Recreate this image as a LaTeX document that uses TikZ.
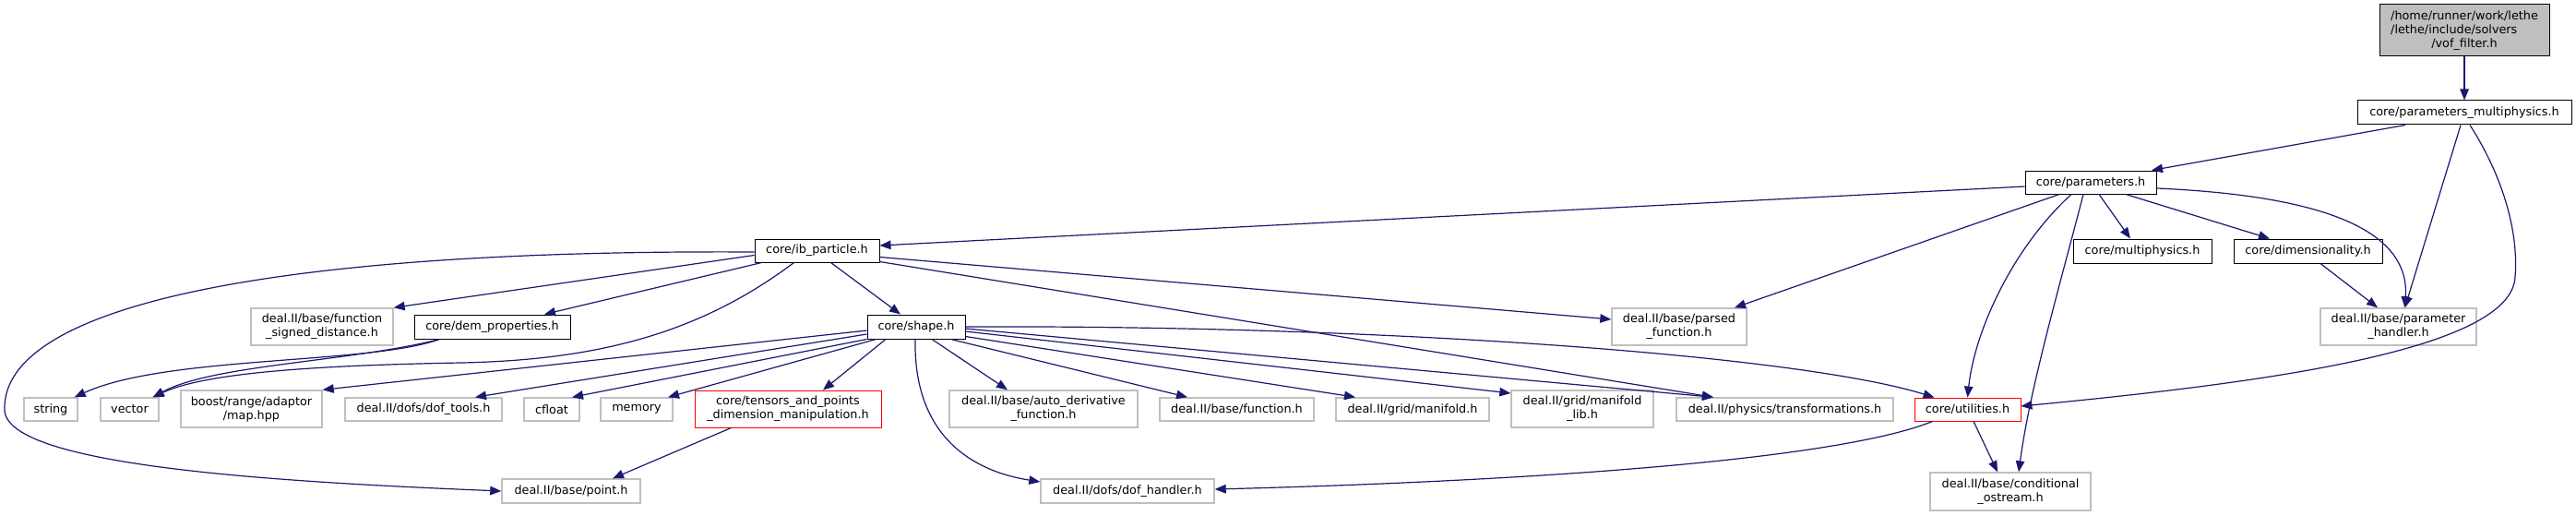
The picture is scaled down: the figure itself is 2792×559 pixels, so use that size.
\documentclass[tikz,border=0pt]{standalone}
\usepackage{fontspec}
\setmainfont{DejaVu Sans}
\usetikzlibrary{arrows.meta}
\definecolor{edgec}{HTML}{191970}
\definecolor{greyb}{HTML}{BFBFBF}
\definecolor{redb}{HTML}{FF0000}
\definecolor{vofc}{HTML}{BFBFBF}
\newcommand\gnode[7]{\node[#6, minimum width={#4-#2}, minimum height={#5-#3}] (#1) at ({(#2+#4)/2},{(#3+#5)/2}) {#7};}
\tikzset{
  gbox/.style={draw, rectangle, inner sep=0pt, line width=1pt, align=center, fill=white,
    font=\fontsize{12.8}{15}\selectfont},
  docnode/.style={gbox, draw=black},
  extnode/.style={gbox, draw=greyb, line width=1.4pt},
  trunode/.style={gbox, draw=redb, line width=0.9pt},
  rootnode/.style={gbox, draw=black, fill=vofc},
  edge/.style={draw=edgec, line width=1.2pt, -{Triangle[length=12pt,width=9.5pt]}}
}
\begin{document}
\begin{tikzpicture}[x=1pt,y=-1pt]
\useasboundingbox (0,0) rectangle (2792,559);
% nodes
\gnode{vof}{2579}{5}{2763}{61}{rootnode}{/home/runner/work/lethe\\\rlap{/lethe/include/solvers}\phantom{/home/runner/work/lethe}\\/vof\_filter.h}
\gnode{pmp}{2555}{109}{2787}{135}{docnode}{core/parameters\_multiphysics.h}
\gnode{par}{2195}{185}{2337}{210}{docnode}{core/parameters.h}
\gnode{ib}{818}{259}{953}{284}{docnode}{core/ib\_particle.h}
\gnode{mph}{2247}{259}{2397}{285}{docnode}{core/multiphysics.h}
\gnode{dim}{2421}{259}{2582}{285}{docnode}{core/dimensionality.h}
\gnode{fsd}{272}{334}{426}{374}{extnode}{deal.II/base/function\\\_signed\_distance.h}
\gnode{dem}{449}{341}{618}{367}{docnode}{core/dem\_properties.h}
\gnode{pfn}{1747}{334}{1893}{374}{extnode}{deal.II/base/parsed\\\_function.h}
\gnode{ph}{2515}{334}{2684}{374}{extnode}{deal.II/base/parameter\\\_handler.h}
\gnode{shape}{940}{341}{1046}{367}{docnode}{core/shape.h}
\gnode{string}{26}{431}{84}{456}{extnode}{string}
\gnode{vector}{109}{431}{172}{456}{extnode}{vector}
\gnode{boost}{196}{423}{349}{463}{extnode}{boost/range/adaptor\\/map.hpp}
\gnode{doftools}{374}{431}{544}{456}{extnode}{deal.II/dofs/dof\_tools.h}
\gnode{cfloat}{568}{431}{628}{456}{extnode}{cfloat}
\gnode{memory}{651}{431}{729}{456}{extnode}{memory}
\gnode{tensors}{753}{423}{955}{463}{trunode}{core/tensors\_and\_points\\\_dimension\_manipulation.h}
\gnode{autoder}{1029}{423}{1233}{463}{extnode}{deal.II/base/auto\_derivative\\\_function.h}
\gnode{func}{1257}{431}{1424}{456}{extnode}{deal.II/base/function.h}
\gnode{manif}{1448}{431}{1614}{456}{extnode}{deal.II/grid/manifold.h}
\gnode{maniflib}{1638}{423}{1792}{463}{extnode}{deal.II/grid/manifold\\\_lib.h}
\gnode{transf}{1817}{431}{2052}{456}{extnode}{deal.II/physics/transformations.h}
\gnode{util}{2075}{431}{2190}{456}{trunode}{core/utilities.h}
\gnode{point}{544}{519}{694}{545}{extnode}{deal.II/base/point.h}
\gnode{dofh}{1128}{519}{1316}{545}{extnode}{deal.II/dofs/dof\_handler.h}
\gnode{cond}{2092}{512}{2266}{553}{extnode}{deal.II/base/conditional\\\_ostream.h}
% edges
\draw[edge] (vof.south) -- (pmp.north);
\draw[edge] ([xshift=-64pt]pmp.south) -- ([xshift=66pt]par.north);
\draw[edge] ([xshift=-4pt]pmp.south) -- ([xshift=7pt]ph.north);
\draw[edge] ([xshift=6pt]pmp.south) .. controls (2712,190) and (2730,250) .. (2726,300) .. controls (2722,380) and (2450,415) .. ([yshift=3.5pt]util.east);
\draw[edge] ([yshift=-4.5pt]par.west) -- ([yshift=5.5pt]ib.east);
\draw[edge] ([xshift=9pt]par.south) -- ([xshift=-13pt]mph.north);
\draw[edge] ([xshift=38pt]par.south) -- ([xshift=-41.5pt]dim.north);
\draw[edge] ([yshift=-6.5pt]par.east) .. controls (2520,212) and (2612,250) .. ([xshift=7pt]ph.north);
\draw[edge] ([xshift=-34pt]par.south) -- ([xshift=60pt]pfn.north);
\draw[edge] ([xshift=-21pt]par.south) .. controls (2180,270) and (2140,360) .. (util.north);
\draw[edge] ([xshift=-8pt]par.south) .. controls (2235,300) and (2200,420) .. ([xshift=9pt]cond.north);
\draw[edge] ([xshift=13.5pt]dim.south) -- ([xshift=-22.5pt]ph.north);
\draw[edge] ([yshift=-1.5pt]ib.west) .. controls (300,270) and (0,330) .. (5,445) .. controls (10,505) and (300,522) .. (point.west);
\draw[edge] ([yshift=-5pt]ib.west) -- (fsd.north east);
\draw[edge] ([xshift=8pt]ib.south west) -- ([xshift=56.5pt]dem.north);
\draw[edge] ([xshift=-25pt]ib.south) .. controls (760,360) and (650,390) .. (500,393) .. controls (330,396) and (220,405) .. ([xshift=-7pt]vector.north east);
\draw[edge] ([xshift=15pt]ib.south) -- ([xshift=-17pt]shape.north);
\draw[edge] ([yshift=-7pt]ib.east) -- ([yshift=8pt]pfn.west);
\draw[edge] ([yshift=-12pt]ib.east) -- ([xshift=-77.5pt]transf.north);
\draw[edge] ([yshift=-4pt]shape.west) -- (boost.north east);
\draw[edge] ([yshift=-8pt]shape.west) -- ([xshift=56pt]doftools.north);
\draw[edge] (shape.south west) -- ([xshift=22pt]cfloat.north);
\draw[edge] ([xshift=10pt]shape.south west) -- ([xshift=34pt]memory.north);
\draw[edge] ([xshift=-33pt]shape.south) -- ([xshift=38pt]tensors.north);
\draw[edge] ([xshift=-1pt]shape.south) .. controls (990,460) and (1040,508) .. ([yshift=10pt]dofh.west);
\draw[edge] ([xshift=17pt]shape.south) -- ([xshift=-39pt]autoder.north);
\draw[edge] ([xshift=-16pt]shape.south east) -- ([xshift=-53.5pt]func.north);
\draw[edge] ([yshift=3pt]shape.south east) -- ([xshift=-62pt]manif.north);
\draw[edge] ([yshift=-5pt]shape.east) -- ([yshift=17pt]maniflib.west);
\draw[edge] ([yshift=-2pt]shape.east) -- ([xshift=-77.5pt]transf.north);
\draw[edge] (shape.east) .. controls (1500,352) and (1950,385) .. ([xshift=22pt]util.north west);
\draw[edge] ([xshift=40pt]tensors.south west) -- ([xshift=45pt]point.north);
\draw[edge] ([xshift=20pt]util.south west) .. controls (2000,495) and (1700,520) .. ([yshift=2pt]dofh.east);
\draw[edge] ([xshift=6.5pt]util.south) -- ([xshift=-14pt]cond.north);
\draw[edge] ([xshift=28pt]dem.south west) .. controls (400,395) and (180,385) .. ([xshift=-4pt]string.north east);
\draw[edge] ([xshift=28pt]dem.south west) .. controls (380,392) and (230,395) .. ([xshift=-7pt]vector.north east);
\end{tikzpicture}
\end{document}
